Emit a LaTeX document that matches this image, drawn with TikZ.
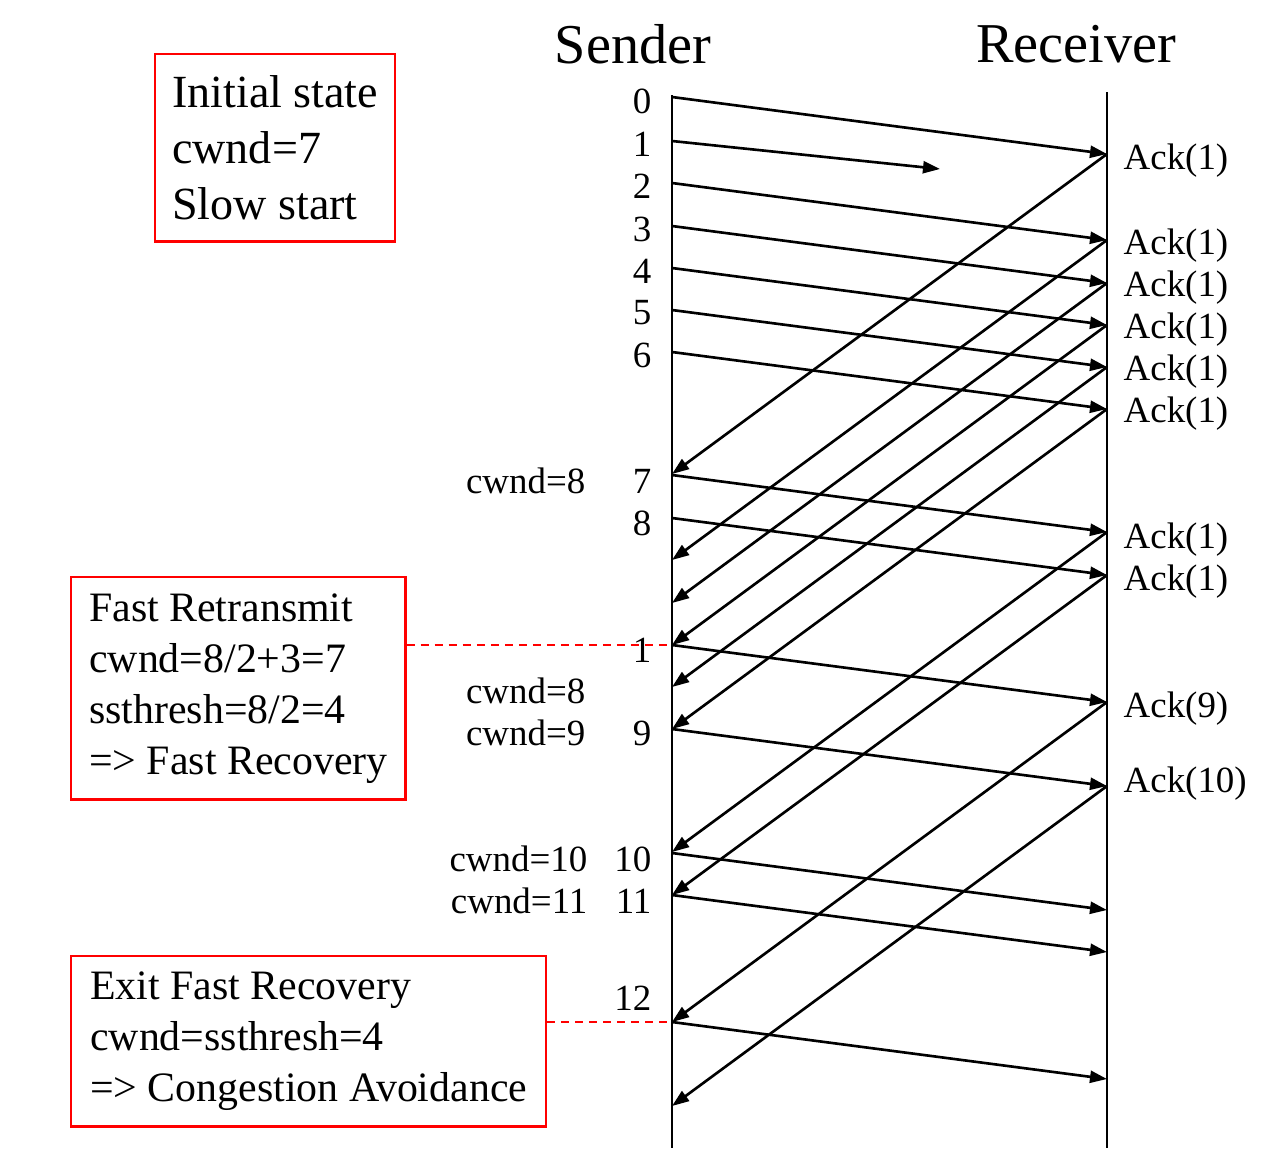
\documentclass[tikz,border=0pt]{standalone}
\usepackage{fontspec}
\setmainfont{Liberation Serif}
\usepackage{tikz}
\usetikzlibrary{arrows.meta}

\tikzset{
  msg/.style={-{Triangle[length=0.17cm,width=0.12cm]}, line width=0.75pt},
  timeline/.style={line width=0.7pt},
  head/.style={font=\fontsize{16}{19}\selectfont},
  seqlbl/.style={anchor=east, inner sep=0pt, font=\fontsize{10.5}{12.6}\selectfont},
  cwndlbl/.style={anchor=east, inner sep=0pt, font=\fontsize{10.5}{12.6}\selectfont},
  acklbl/.style={anchor=west, inner sep=0pt, font=\fontsize{10.5}{12.6}\selectfont},
  notebox/.style={draw=red, line width=0.7pt, align=left, inner xsep=0.18cm, anchor=north west,
    font=\fontsize{11.9}{14.5}\selectfont},
  reddash/.style={red, line width=0.7pt, dash pattern=on 0.08cm off 0.06cm}
}

\begin{document}
\begin{tikzpicture}[x=0.01cm, y=-0.01cm]
		\useasboundingbox (0,0) rectangle (1282,1148);
		\node[head] (sender) at (633,44) {Sender};
		\node[head] (receiver) at (1076,44) {Receiver};
		\draw[timeline] (672,95) -- (672,1148);
		\draw[timeline] (1107,92) -- (1107,1148);
		\foreach \n/\t in {0/97,2/183,3/226,4/268,5/310,6/352,7/475,8/518,r/645,9/729}{
			\coordinate (snd\n) at (672,\t);
			\coordinate (rcv\n) at (1107,\t+57);
			\coordinate (ack\n) at (672,\t+377);
			\draw[msg] (snd\n) -- (rcv\n);
			\draw[msg] (rcv\n) -- (ack\n);
		}
		\foreach \n/\t in {10/853,11/895,12/1022}{
			\coordinate (snd\n) at (672,\t);
			\coordinate (rcv\n) at (1107,\t+57);
			\draw[msg] (snd\n) -- (rcv\n);
		}
		\coordinate (snd1) at (672,141);
		\coordinate (lost) at (940,169);
		\draw[msg] (snd1) -- (lost);
		\foreach \n/\t in {0/101,1/144,2/186,3/229,4/271,5/313,6/355,7/481,8/523,9/733,10/859,11/901,12/998}
			\node[seqlbl] (seq\n) at (652,\t) {\n};
		\node[seqlbl] (seqr) at (652,650) {1};
		\node[cwndlbl] (cw7) at (586,481) {cwnd=8};
		\node[cwndlbl] (cw8) at (586,691) {cwnd=8};
		\node[cwndlbl] (cw9) at (586,733) {cwnd=9};
		\node[cwndlbl] (cw10) at (588,859) {cwnd=10};
		\node[cwndlbl] (cw11) at (588,901) {cwnd=11};
		\foreach \n/\t/\k in {0/161/1,2/246/1,3/288/1,4/330/1,5/372/1,6/414/1,7/540/1,8/582/1,r/709/9,9/784/10}
			\node[acklbl] (lbl\n) at (1123,\t) {Ack(\k)};
		\node[notebox, font=\fontsize{13.1}{15.9}\selectfont, inner xsep=0.17cm, minimum height=1.87cm] (init) at (154,53) {Initial state\\cwnd=7\\Slow start};
		\node[notebox, minimum height=2.22cm] (fastre) at (70,576) {Fast Retransmit\\cwnd=8/2+3=7\\ssthresh=8/2=4\\=> Fast Recovery};
		\node[notebox, inner xsep=0.19cm, minimum height=1.70cm] (exitfr) at (70,955) {Exit Fast Recovery\\cwnd=ssthresh=4\\=> Congestion Avoidance};
		\draw[reddash] (fastre.east |- sndr) -- (sndr);
		\draw[reddash] (exitfr.east |- snd12) -- (snd12);
\end{tikzpicture}
\end{document}
